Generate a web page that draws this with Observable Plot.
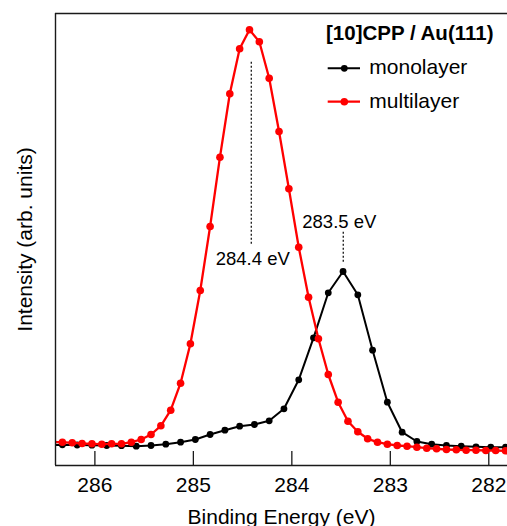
<!DOCTYPE html>
<html>
<head>
<meta charset="utf-8">
<script src="https://cdn.jsdelivr.net/npm/d3@7"></script>
<script src="https://cdn.jsdelivr.net/npm/@observablehq/plot@0.6"></script>
<style>
html, body { margin: 0; padding: 0; overflow: hidden; background: white; }
svg { display: block; }
</style>
</head>
<body>
<div id="chart"></div>
<script>
// Binding energies (eV) of the multilayer spectrum (red)
const multiEnergy = [286.43, 286.33, 286.23, 286.13, 286.03, 285.93, 285.83, 285.73, 285.63, 285.53,
  285.43, 285.33, 285.23, 285.13, 285.03, 284.93, 284.83, 284.73, 284.63, 284.53,
  284.43, 284.33, 284.23, 284.13, 284.03, 283.93, 283.83, 283.73, 283.63, 283.53,
  283.43, 283.33, 283.23, 283.13, 283.03, 282.93, 282.83, 282.73, 282.63, 282.53,
  282.43, 282.33, 282.23, 282.13, 282.03, 281.93, 281.83];
// Intensity (arb. units) of the multilayer spectrum
const multiIntensity = [23.5, 23.3, 22.7, 22.0, 21.7, 21.3, 21.7, 21.7, 23.3, 26.0,
  31.0, 39.7, 55.3, 82.3, 121.7, 175.0, 239.0, 308.3, 371.7, 416.7,
  435.7, 423.7, 387.3, 334.0, 276.7, 218.3, 168.3, 126.7, 91.0, 63.3,
  44.3, 33.7, 26.7, 23.3, 21.3, 20.0, 19.3, 18.3, 17.3, 16.7,
  16.0, 15.7, 15.3, 15.3, 15.0, 15.0, 14.7];

// Binding energies (eV) of the monolayer spectrum (black)
const monoEnergy = [286.48, 286.33, 286.18, 286.03, 285.88, 285.73, 285.58, 285.43, 285.28, 285.13,
  284.98, 284.83, 284.68, 284.53, 284.38, 284.23, 284.08, 283.93, 283.78, 283.63,
  283.48, 283.33, 283.18, 283.03, 282.88, 282.73, 282.58, 282.43, 282.28, 282.13,
  281.98, 281.83];
// Intensity (arb. units) of the monolayer spectrum
const monoIntensity = [20.5, 20.7, 20.5, 20.3, 20.0, 19.8, 19.3, 20.0, 21.3, 23.3,
  26.0, 31.0, 35.3, 39.3, 41.0, 44.7, 56.7, 85.7, 127.7, 172.7,
  194.0, 170.7, 115.3, 63.3, 33.3, 24.0, 21.3, 20.0, 19.3, 18.7,
  18.3, 18.3];

const xTicks = [286, 285, 284, 283, 282];
const xDomain = [286.4, 281.81];
const yDomain = [0, 452];

// Peak annotations
const annotLabel = ["284.4 eV", "283.5 eV"];
const annotLineX = [284.412, 283.478];
const annotLineTop = [403.3, 233.3];
const annotLineBottom = [220, 203.3];
const annotTextX = [284.397, 283.518];
const annotTextY = [201, 237.7];

const seriesNames = ["monolayer", "multilayer"];
const seriesColors = ["#000000", "#ff0000"];
const legendTitle = "[10]CPP / Au(111)";
const xLabel = "Binding Energy (eV)";
const yLabel = "Intensity (arb. units)";

const mono = monoEnergy.map((e, i) => ({e, v: monoIntensity[i]}));
const multi = multiEnergy.map((e, i) => ({e, v: multiIntensity[i]}));
const annot = annotLabel.map((label, i) => ({
  label, lx: annotLineX[i], top: annotLineTop[i], bottom: annotLineBottom[i],
  tx: annotTextX[i], ty: annotTextY[i]
}));

const FONT = "'Liberation Sans', Arial, Helvetica, sans-serif";
const frameColor = "#1a1a1a";

const chart = Plot.plot({
  width: 507,
  height: 526,
  marginTop: 13,
  marginLeft: 55,
  marginRight: 0,
  marginBottom: 61,
  style: {fontFamily: FONT, fontSize: "21px", background: "white", color: "black"},
  x: {domain: xDomain, ticks: xTicks, tickSize: 0, tickPadding: 12, label: null, tickFormat: d => String(d)},
  y: {domain: yDomain, axis: null},
  marks: [
    Plot.ruleX(xTicks, {insetTop: 438, stroke: frameColor, strokeWidth: 1.3}),
    Plot.ruleX(annot, {x: "lx", y1: "top", y2: "bottom", stroke: "black", strokeWidth: 1.2, strokeDasharray: "2,2"}),
    Plot.text(annot, {x: "tx", y: "ty", text: "label", fontSize: 18.5, lineAnchor: "bottom", textAnchor: "middle", fill: "black"}),
    Plot.line(mono, {x: "e", y: "v", stroke: seriesColors[0], strokeWidth: 2, clip: true}),
    Plot.dot(mono, {x: "e", y: "v", r: 3.4, fill: seriesColors[0], stroke: "none", clip: true}),
    Plot.line(multi, {x: "e", y: "v", stroke: seriesColors[1], strokeWidth: 2.3, clip: true}),
    Plot.dot(multi, {x: "e", y: "v", r: 3.8, fill: seriesColors[1], stroke: "none", clip: true}),
    Plot.ruleX([xDomain[0]], {stroke: frameColor, strokeWidth: 1.4}),
    Plot.ruleY(yDomain, {stroke: frameColor, strokeWidth: 1.4}),
    Plot.text([yLabel], {text: d => d, frameAnchor: "left", dx: -30, rotate: -90, lineAnchor: "middle", textAnchor: "middle", fontSize: 21, fill: "black"}),
    Plot.text([xLabel], {text: d => d, frameAnchor: "bottom", dy: 58, lineAnchor: "bottom", textAnchor: "middle", fontSize: 21, fill: "black"})
  ]
});

document.getElementById("chart").appendChild(chart);

// Legend
const svg = d3.select(chart);
const lg = svg.append("g").attr("font-family", FONT).attr("text-anchor", "start");
lg.append("text").attr("x", 326).attr("y", 40).attr("font-size", 20.5).attr("font-weight", "bold")
  .attr("text-anchor", "start").attr("fill", "black").text(legendTitle);
const rowsY = [68.3, 101.7];
seriesNames.forEach((name, i) => {
  const y = rowsY[i];
  lg.append("line").attr("x1", 327.7).attr("x2", 360).attr("y1", y).attr("y2", y)
    .attr("stroke", seriesColors[i]).attr("stroke-width", i ? 2.3 : 2);
  lg.append("circle").attr("cx", 344.3).attr("cy", y).attr("r", i ? 3.8 : 3.4).attr("fill", seriesColors[i]);
  lg.append("text").attr("x", 369.3).attr("y", y + 6).attr("font-size", 21)
    .attr("text-anchor", "start").attr("fill", "black").text(name);
});
</script>
</body>
</html>
